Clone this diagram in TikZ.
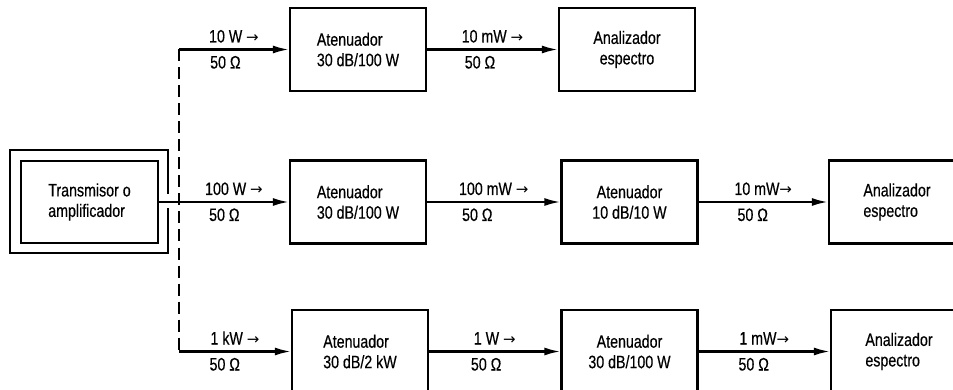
\documentclass[tikz,border=0pt]{standalone}
\usepackage{fontspec}
\setmainfont{Liberation Sans}[FakeStretch=0.79,FakeBold=0.4]
\newfontfamily\arw{DejaVu Sans}
\newcommand{\rarr}{{\arw\fontsize{15}{15}\selectfont →}}
\usetikzlibrary{arrows.meta,calc}
\begin{document}
\begin{tikzpicture}[x=1pt,y=-1pt,
  txt/.style={font=\fontsize{18}{20.5}\selectfont},
  box/.style={txt, draw, line width=2.2pt, minimum width=136pt, minimum height=83pt, inner sep=0pt},
  conn/.style={line width=2.2pt, -{Latex[length=16pt,width=8pt]}},
  dashline/.style={line width=2pt, dash pattern=on 12pt off 6pt},
  up/.style={txt, anchor=base, yshift=7pt, inner sep=0pt},
  dn/.style={txt, anchor=base west, inner sep=0pt},
]
\clip (0,0) rectangle (953,390);
\fill[white] (0,0) rectangle (953,390);

% transmitter
\node[box, minimum width=137pt, minimum height=82pt, align=left] (T) at (89.5,202) {Transmisor o\\amplificador};
\draw[line width=2.2pt] (168,194) -- (168,150) -- (10,150) -- (10,253) -- (168,253) -- (168,208);

% boxes
\node[box, align=left]   (A1) at (358,49.5)  {Atenuador\\30 dB/100 W};
\node[box, align=center] (S1) at (627,49.5)  {Analizador\\espectro};
\node[box, align=left]   (A2) at (358,202)   {Atenuador\\30 dB/100 W};
\node[box, align=center] (B2) at (629.5,202) {Atenuador\\10 dB/10 W};
\node[box, align=left]   (S2) at (897,202)   {Analizador\\espectro};
\node[box, align=left]   (A3) at (360,351.5) {Atenuador\\30 dB/2 kW};
\node[box, align=center] (B3) at (629.5,351.5) {Atenuador\\30 dB/100 W};
\node[box, align=left]   (S3) at (899,351.5) {Analizador\\espectro};

% splitter
\coordinate (d1) at (179,49.5);
\coordinate (d3) at (179,351.5);
\draw[dashline] (d1) -- (d3);

% connectors with labels
\draw[conn] (d1) -- node[up] (l1) {10 W \rarr} (A1);
\node[dn] at ($(l1.base west)+(2,26)$) {50 Ω};
\draw[conn] (A1) -- node[up] (l2) {10 mW \rarr} (S1);
\node[dn] at ($(l2.base west)+(4,26)$) {50 Ω};

\draw[conn] (T) -- (A2);
\path (d1 |- T) -- node[up] (l3) {100 W \rarr} (A2);
\node[dn] at ($(l3.base west)+(4,26)$) {50 Ω};
\draw[conn] (A2) -- node[up] (l4) {100 mW \rarr} (B2);
\node[dn] at ($(l4.base west)+(4,26)$) {50 Ω};
\draw[conn] (B2) -- node[up] (l5) {10 mW\rarr} (S2);
\node[dn] at ($(l5.base west)+(4,26)$) {50 Ω};

\draw[conn] (d3) -- node[up] (l6) {1 kW \rarr} (A3);
\node[dn] at ($(l6.base west)+(0,26)$) {50 Ω};
\draw[conn] (A3) -- node[up] (l7) {1 W \rarr} (B3);
\node[dn] at ($(l7.base west)+(-2,26)$) {50 Ω};
\draw[conn] (B3) -- node[up] (l8) {1 mW\rarr} (S3);
\node[dn] at ($(l8.base west)+(0,26)$) {50 Ω};
\end{tikzpicture}
\end{document}
